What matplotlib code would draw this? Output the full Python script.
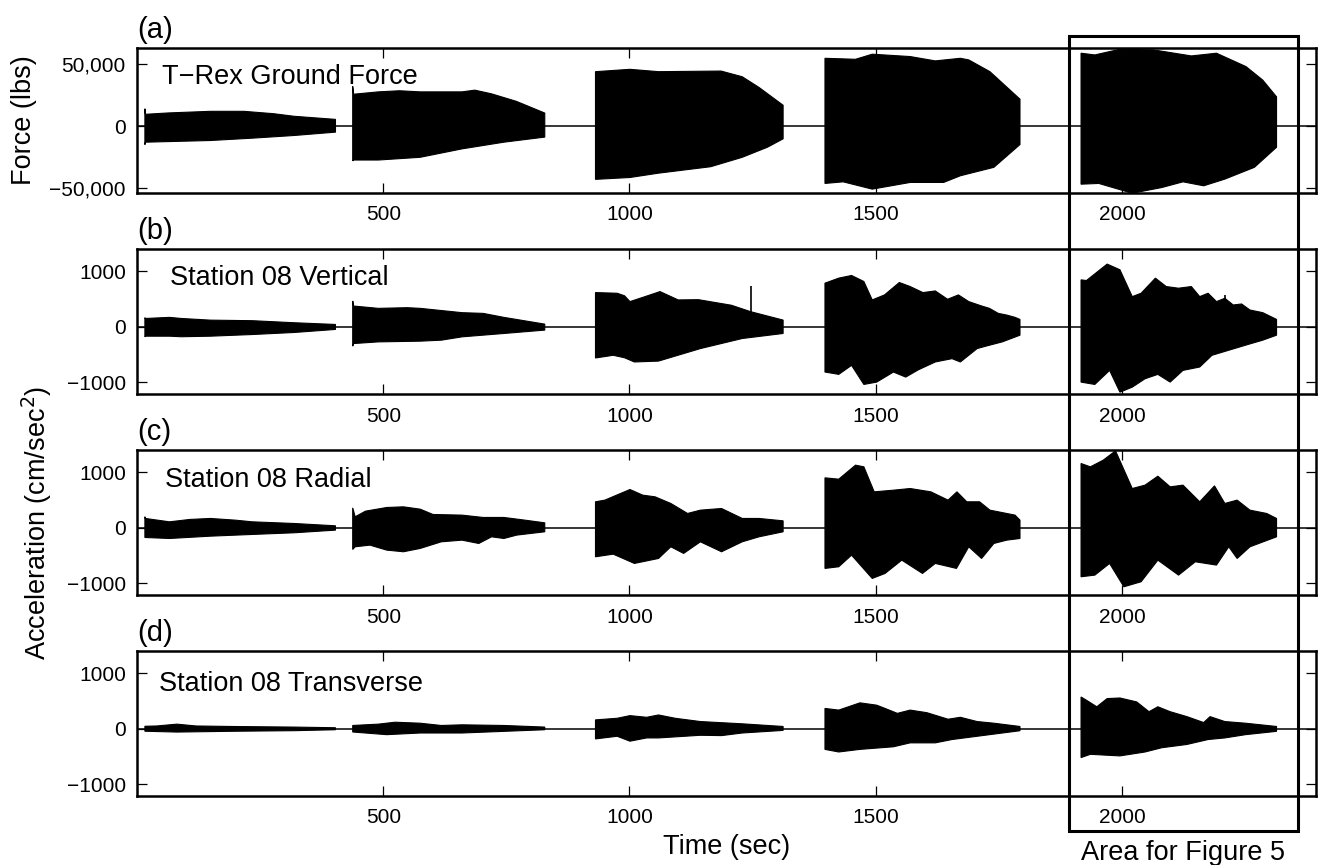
import numpy as np
import matplotlib
matplotlib.use("Agg")
import matplotlib.pyplot as plt
from matplotlib import transforms
from matplotlib.patches import Rectangle
from matplotlib.ticker import FuncFormatter

plt.rcParams['font.family'] = ['Liberation Sans', 'DejaVu Sans']

# ---- envelope data (time in sec) ----
# each list holds 5 sweeps; top/bottom edges of the black traces

# (a) T-Rex ground force, lbs
force_top_t = [[16, 17, 64, 149, 217, 277, 319, 403],
               [438, 440, 490, 533, 575, 660, 686, 720, 770, 828],
               [931, 1001, 1059, 1186, 1229, 1263, 1312],
               [1397, 1459, 1493, 1570, 1621, 1672, 1689, 1732, 1793],
               [1917, 1945, 1996, 2064, 2141, 2192, 2252, 2286, 2314]]
force_top_v = [[14000, 9500, 10600, 11900, 11900, 10000, 7900, 5400],
               [32000, 25700, 27600, 28500, 27600, 27600, 29000, 26000, 20000, 10500],
               [43900, 45800, 43900, 44400, 39800, 31200, 16800],
               [54700, 53900, 58000, 56100, 52600, 54700, 53400, 43900, 21700],
               [58800, 57400, 62000, 61500, 56600, 58800, 48000, 37100, 23600]]
force_bot_t = [[16, 17, 149, 234, 319, 403],
               [438, 440, 490, 575, 660, 745, 828],
               [931, 1001, 1059, 1165, 1229, 1280, 1312],
               [1397, 1434, 1493, 1570, 1638, 1672, 1740, 1793],
               [1917, 1953, 2021, 2081, 2124, 2166, 2209, 2269, 2314]]
force_bot_v = [[-15000, -13000, -11650, -9760, -7600, -4900],
               [-28000, -27400, -27400, -25200, -18400, -13000, -8900],
               [-43000, -41500, -38000, -32800, -25200, -17100, -10300],
               [-46300, -45000, -50900, -45500, -45500, -40100, -33300, -14900],
               [-46900, -46300, -54200, -49600, -45000, -48200, -42800, -33300, -17100]]

# (b) Station 08 vertical, cm/sec^2
vert_top_t = [[16, 17, 66, 90, 149, 234, 319, 403],
              [438, 440, 490, 549, 575, 660, 703, 745, 828],
              [931, 975, 990, 1001, 1030, 1062, 1099, 1140, 1207, 1246, 1312],
              [1397, 1425, 1451, 1476, 1493, 1518, 1548, 1570, 1596, 1621, 1646,
               1668, 1689, 1715, 1731, 1749, 1766, 1783, 1793],
              [1917, 1928, 1970, 1996, 2021, 2039, 2068, 2090, 2115, 2141, 2158,
               2175, 2192, 2209, 2226, 2243, 2260, 2286, 2314]]
vert_top_v = [[165, 150, 170, 150, 120, 110, 73, 42],
              [467, 375, 333, 345, 333, 255, 242, 170, 48],
              [618, 606, 560, 455, 540, 636, 485, 490, 389, 273, 121],
              [788, 879, 927, 818, 485, 576, 800, 727, 618, 648, 497,
               576, 455, 376, 333, 242, 212, 170, 133],
              [848, 836, 1133, 1030, 545, 606, 879, 727, 697, 727, 545,
               606, 455, 515, 394, 412, 303, 255, 133]]
vert_bot_t = [[16, 17, 66, 90, 149, 234, 319, 403],
              [438, 440, 490, 575, 618, 660, 745, 828],
              [931, 967, 990, 1010, 1059, 1144, 1229, 1312],
              [1397, 1425, 1451, 1476, 1502, 1536, 1561, 1587, 1621, 1655, 1672,
               1706, 1723, 1757, 1793],
              [1917, 1945, 1975, 1996, 2021, 2047, 2073, 2098, 2124, 2158, 2183,
               2217, 2251, 2286, 2314]]
vert_bot_v = [[-180, -170, -170, -180, -170, -140, -103, -48],
              [-350, -303, -273, -260, -242, -182, -121, -60],
              [-564, -515, -560, -636, -620, -394, -212, -121],
              [-818, -860, -697, -1042, -1000, -818, -909, -776, -636, -576, -636,
               -394, -352, -273, -152],
              [-1000, -1042, -788, -1182, -1091, -939, -860, -1000, -788, -727, -515,
               -424, -333, -242, -152]]
vert_spike_t = [1247, 2209]
vert_spike_v = [740, 576]

# (c) Station 08 radial
rad_top_t = [[16, 17, 66, 107, 149, 200, 234, 319, 403],
             [438, 443, 464, 507, 541, 575, 601, 660, 703, 745, 788, 828],
             [931, 950, 1001, 1027, 1052, 1084, 1118, 1144, 1187, 1229, 1263, 1312],
             [1397, 1425, 1459, 1476, 1497, 1536, 1570, 1612, 1647, 1665, 1685,
              1711, 1732, 1749, 1783, 1793],
             [1917, 1936, 1962, 1987, 2021, 2047, 2073, 2098, 2124, 2158, 2188,
              2209, 2234, 2260, 2294, 2314]]
rad_top_v = [[200, 169, 108, 151, 169, 138, 108, 78, 36],
             [361, 199, 301, 367, 379, 337, 241, 229, 187, 187, 138, 90],
             [470, 500, 692, 590, 560, 440, 259, 319, 349, 169, 169, 126],
             [903, 879, 1132, 1102, 650, 680, 710, 650, 500, 650, 470,
              470, 319, 289, 229, 138],
             [1162, 1102, 1222, 1391, 710, 771, 933, 740, 771, 470, 758,
              440, 500, 319, 259, 169]]
rad_bot_t = [[16, 17, 66, 149, 234, 319, 403],
             [438, 443, 473, 507, 541, 575, 618, 660, 694, 720, 745, 771, 828],
             [931, 967, 1010, 1059, 1084, 1110, 1144, 1187, 1229, 1263, 1312],
             [1397, 1425, 1451, 1493, 1519, 1553, 1595, 1621, 1664, 1689, 1715,
              1740, 1766, 1793],
             [1917, 1945, 1975, 2004, 2039, 2073, 2115, 2149, 2192, 2217, 2234,
              2260, 2314]]
rad_bot_v = [[-175, -175, -193, -151, -120, -90, -42],
             [-391, -343, -313, -403, -433, -373, -253, -223, -283, -163, -193, -132, -72],
             [-524, -476, -644, -554, -343, -463, -253, -433, -253, -163, -72],
             [-734, -704, -494, -915, -825, -584, -825, -644, -734, -343, -554,
              -283, -223, -193],
             [-885, -855, -644, -1066, -975, -584, -855, -614, -674, -343, -554,
              -343, -163]]

# (d) Station 08 transverse
trans_top_t = [[16, 40, 81, 120, 200, 319, 403],
               [438, 490, 524, 575, 618, 660, 745, 828],
               [931, 975, 1001, 1035, 1059, 1093, 1144, 1229, 1312],
               [1397, 1425, 1468, 1502, 1519, 1544, 1570, 1604, 1647, 1672, 1706,
                1740, 1793],
               [1917, 1928, 1949, 1970, 1996, 2030, 2055, 2073, 2098, 2132, 2166,
                2179, 2209, 2251, 2314]]
trans_top_v = [[45, 50, 83, 50, 40, 30, 18],
               [59, 83, 118, 100, 59, 71, 59, 30],
               [160, 189, 237, 207, 249, 189, 130, 89, 41],
               [367, 337, 468, 426, 367, 278, 337, 290, 172, 207, 130, 100, 41],
               [574, 515, 397, 545, 556, 485, 308, 397, 308, 219, 112,
                219, 130, 100, 41]]
trans_bot_t = [[16, 81, 200, 319, 403],
               [438, 507, 575, 660, 745, 828],
               [931, 975, 1001, 1035, 1059, 1144, 1187, 1229, 1312],
               [1397, 1425, 1468, 1536, 1570, 1621, 1655, 1706, 1793],
               [1917, 1936, 1996, 2047, 2081, 2132, 2175, 2209, 2251, 2314]]
trans_bot_v = [[-45, -60, -45, -35, -18],
               [-59, -107, -77, -77, -47, -18],
               [-184, -136, -225, -166, -166, -118, -124, -77, -30],
               [-373, -420, -373, -326, -255, -255, -195, -136, -36],
               [-521, -462, -491, -420, -343, -284, -195, -166, -107, -47]]

panel_letters = ['(a)', '(b)', '(c)', '(d)']
panel_names = ['T\u2212Rex Ground Force', 'Station 08 Vertical',
               'Station 08 Radial', 'Station 08 Transverse']
x_ticks = [500, 1000, 1500, 2000]
force_ticks = [-50000, 0, 50000]
acc_ticks = [-1000, 0, 1000]
box_start, box_end = 1892, 2358   # "Area for Figure 5"

# ---- figure ----
fig = plt.figure(figsize=(13.2, 8.65), dpi=100)
left, width, height = 0.1038, 0.8935, 0.1676
bottoms = [0.7769, 0.5445, 0.3121, 0.0798]

panels = [(force_top_t, force_top_v, force_bot_t, force_bot_v),
          (vert_top_t, vert_top_v, vert_bot_t, vert_bot_v),
          (rad_top_t, rad_top_v, rad_bot_t, rad_bot_v),
          (trans_top_t, trans_top_v, trans_bot_t, trans_bot_v)]
text_pos = [(0.021, 0.80), (0.028, 0.80), (0.024, 0.793), (0.019, 0.772)]

axes = []
for i, (tt, tv, bt, bv) in enumerate(panels):
    ax = fig.add_axes([left, bottoms[i], width, height])
    axes.append(ax)
    ax.axhline(0, color='black', lw=1.1, zorder=1)
    for k in range(5):
        xs = np.r_[tt[k], bt[k][::-1]]
        ys = np.r_[tv[k], bv[k][::-1]]
        ax.fill(xs, ys, color='black', lw=0.8, zorder=2)
    if i == 1:
        ax.vlines(vert_spike_t, 0, vert_spike_v, color='black', lw=1.2, zorder=2)

    ax.set_xlim(0, 2395)
    ax.set_xticks(x_ticks)
    if i == 0:
        ax.set_ylim(-54000, 63000)
        ax.set_yticks(force_ticks)
        ax.yaxis.set_major_formatter(FuncFormatter(
            lambda v, p: '{:,.0f}'.format(v).replace('-', '\u2212')))
    else:
        ax.set_ylim(-1215, 1405)
        ax.set_yticks(acc_ticks)
    ax.tick_params(direction='in', top=True, right=True, length=7.5, width=0.9,
                   labelsize=15)
    ax.tick_params(axis='x', pad=9)
    ax.tick_params(axis='y', pad=8)
    for s in ax.spines.values():
        s.set_linewidth(1.8)

    ax.text(0.0, 1.125, panel_letters[i], transform=ax.transAxes,
            fontsize=21, ha='left', va='center')
    ax.text(text_pos[i][0], text_pos[i][1], panel_names[i], transform=ax.transAxes,
            fontsize=19.5, ha='left', va='center')

fig.text(0.018, 0.861, 'Force (lbs)', rotation=90, fontsize=19.5,
         ha='center', va='center')
fig.text(0.0277, 0.3954, 'Acceleration (cm/sec$^2$)', rotation=90,
         fontsize=19.5, ha='center', va='center')
fig.text(0.5508, 0.0208, 'Time (sec)', fontsize=19.5, ha='center', va='center')

# box marking the area used for Figure 5
trans = transforms.blended_transform_factory(axes[0].transData, fig.transFigure)
fig.patches.append(Rectangle((box_start, 0.0393), box_end - box_start, 0.958 - 0.0393,
                             transform=trans, fill=False, lw=2.2, color='black',
                             zorder=5))
fig.text(0.5 * (box_start + box_end), 0.0139, 'Area for Figure 5', transform=trans,
         fontsize=19.5, ha='center', va='center')

fig.savefig('out.png', dpi=100)
